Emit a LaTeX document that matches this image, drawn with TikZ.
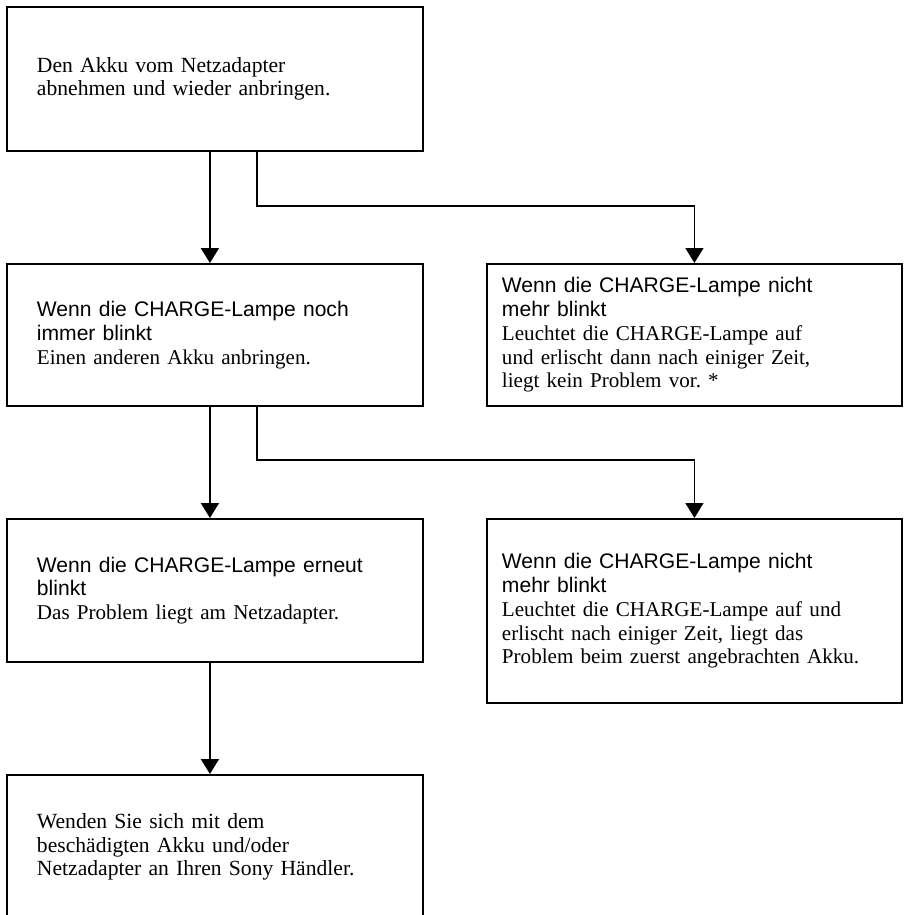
\documentclass[tikz,border=0pt]{standalone}
\usepackage{fontspec}
\setmainfont{Liberation Serif}
\newfontfamily\headfont{Liberation Sans}
\usetikzlibrary{positioning,arrows.meta}
\frenchspacing
\tikzset{
    block/.style={
        draw,
        line width=1.1pt,
        anchor=north west,
        inner sep=0pt,
        minimum width=8.32cm,
        text width=7.12cm,
        align=left,
        font=\fontsize{12.3}{13.5}\selectfont
    },
    rblock/.style={
        block,
        minimum width=8.3cm,
        text width=7.7cm
    },
    line/.style={
        -{Triangle[width=0.36cm,length=0.3cm]},
        line width=1.1pt
    },
    elbow/.style={
        line,
        line width=0.8pt
    }
}

\begin{document}
\begin{tikzpicture}[x=0.02cm, y=-0.02cm]
\useasboundingbox (0,0) rectangle (908,915);

\node[block, minimum height=2.88cm] (abnehmen) at (6,6)
    {Den Akku vom Netzadapter\\abnehmen und wieder anbringen.};

\node[block, minimum height=2.84cm] (noch) at (6,263)
    {\headfont\fontsize{12}{13.5}\selectfont Wenn die CHARGE-Lampe noch\\immer blinkt\\
     \rmfamily Einen anderen Akku anbringen.};

\node[rblock, minimum height=2.84cm] (aus1) at (486,263)
    {\headfont\fontsize{12}{13.5}\selectfont Wenn die CHARGE-Lampe nicht\\mehr blinkt\\
     \rmfamily Leuchtet die CHARGE-Lampe auf\\und erlischt dann nach einiger Zeit,\\liegt kein Problem vor. *};

\node[block, minimum height=2.86cm] (erneut) at (6,518)
    {\headfont\fontsize{12}{13.5}\selectfont Wenn die CHARGE-Lampe erneut\\blinkt\\
     \rmfamily Das Problem liegt am Netzadapter.};

\node[rblock, minimum height=3.68cm] (aus2) at (486,518)
    {\headfont\fontsize{12}{13.5}\selectfont Wenn die CHARGE-Lampe nicht\\mehr blinkt\\
     \rmfamily Leuchtet die CHARGE-Lampe auf und\\erlischt nach einiger Zeit, liegt das\\Problem beim zuerst angebrachten Akku.};

\node[block, minimum height=2.88cm] (haendler) at (6,774)
    {Wenden Sie sich mit dem\\beschädigten Akku und/oder\\Netzadapter an Ihren Sony Händler.};

% straight down
\draw[line] ([xshift=-0.1cm]abnehmen.south) -- ([xshift=-0.1cm]noch.north);
\draw[line] ([xshift=-0.1cm]noch.south) -- ([xshift=-0.1cm]erneut.north);
\draw[line] ([xshift=-0.1cm]erneut.south) -- ([xshift=-0.1cm]haendler.north);

% branches to the right
\coordinate (knick1) at (0,206);
\coordinate (knick2) at (0,460);
\draw[elbow] ([xshift=0.84cm]abnehmen.south) |- (knick1 -| aus1.north) -- (aus1.north);
\draw[elbow] ([xshift=0.84cm]noch.south) |- (knick2 -| aus2.north) -- (aus2.north);

\end{tikzpicture}
\end{document}
